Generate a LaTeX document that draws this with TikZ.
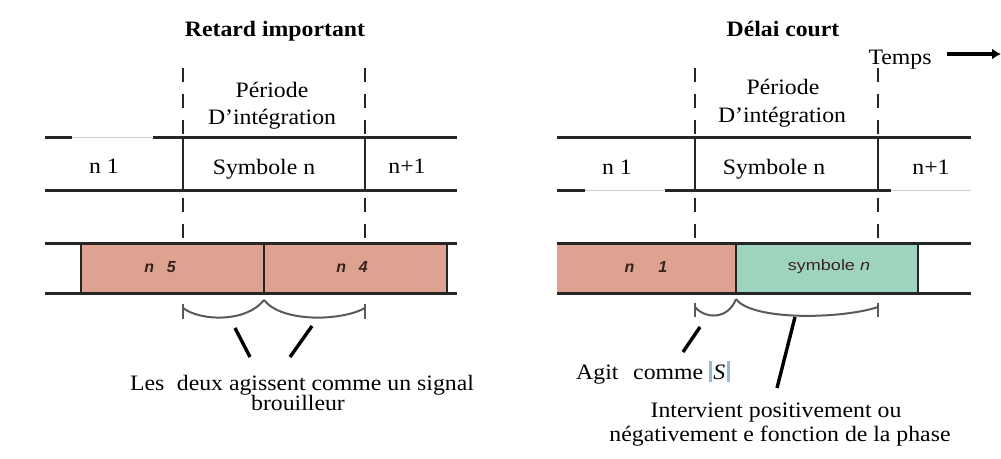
\documentclass[tikz,border=0pt]{standalone}
\usepackage{fontspec}
\usepackage{graphicx}
\setmainfont{Liberation Serif}[FakeStretch=1.08]
\newfontfamily\boxfont{Liberation Sans}
\usetikzlibrary{arrows.meta}

\definecolor{salmon}{RGB}{222,163,144}
\definecolor{mint}{RGB}{158,211,189}
\definecolor{bracegray}{RGB}{90,90,90}
\definecolor{sblue}{RGB}{140,190,220}
\definecolor{boxtext}{RGB}{55,35,30}

% |S| with light blue bars
\newcommand{\absS}{\textcolor{sblue}{\rule[-0.12em]{0.14em}{0.95em}}\hspace{0.06em}\textit{S}\hspace{0.06em}\textcolor{sblue}{\rule[-0.12em]{0.14em}{0.95em}}}

\tikzset{
  bandline/.style={line width=3pt, draw=black!85},
  sepline/.style={line width=2.8pt, draw=black!85},
  faintline/.style={line width=1pt, draw=black!18},
  dashline/.style={line width=2.8pt, draw=black!85, dash pattern=on 14pt off 12pt},
  bracearc/.style={line width=2pt, draw=bracegray},
  pointer/.style={line width=3.4pt, draw=black},
  lbl/.style={font=\fontsize{22}{24}\selectfont, inner sep=0pt, anchor=base},
  titlelbl/.style={font=\fontsize{22}{24}\selectfont\bfseries, inner sep=0pt, anchor=base},
  boxlbl/.style={font=\boxfont\fontsize{15}{17}\selectfont, text=boxtext, inner sep=0pt},
  boxnum/.style={boxlbl, font=\boxfont\itshape\bfseries\fontsize{16}{18}\selectfont},
}

\begin{document}
\begin{tikzpicture}[x=1pt,y=-1pt]
\useasboundingbox (0,0) rectangle (1001,458);
\fill[white] (0,0) rectangle (1001,458);

%% ---------------- left panel: long delay ----------------
\node[titlelbl] (titleL) at (275,36) {Retard important};

% symbol row
\draw[bandline] (45,137) -- (72,137);
\draw[faintline] (72,137) -- (153,137);
\draw[bandline] (153,137) -- (457,137);
\draw[bandline] (45,190) -- (457,190);
\draw[dashline] (183,68) -- (183,243);
\draw[dashline] (365,68) -- (365,243);
\draw[sepline] (183,137) -- (183,190);
\draw[sepline] (365,137) -- (365,190);

\node[lbl] (perL) at (272,97) {Période};
\node[lbl] (intL) at (272,124) {D'intégration};
\node[lbl] (n1L) at (104,173) {n 1};
\node[lbl] (symL) at (264,174) {Symbole n};
\node[lbl] (np1L) at (407,173) {n+1};

% delayed copy row
\fill[salmon] (81,243) rectangle (264,293);
\fill[salmon] (264,243) rectangle (447,293);
\draw[sepline] (81,243) -- (81,293);
\draw[sepline] (264,243) -- (264,293);
\draw[sepline] (447,243) -- (447,293);
\draw[bandline] (45,243) -- (457,243);
\draw[bandline] (45,293) -- (457,293);
\node[boxnum] (n5) at (160,267) {n\hspace{0.8em}5};
\node[boxnum] (n4) at (352,267) {n\hspace{0.8em}4};

% integration window brace
\draw[bracearc] (183,304) -- (183,319);
\draw[bracearc] (365,304) -- (365,319);
\draw[bracearc] (183,308) .. controls (200,321) and (246,323) .. (264,300);
\draw[bracearc] (264,300) .. controls (282,323) and (342,321) .. (365,308);

\node[lbl] (jamL1) at (302,390) {Les\hspace{0.3em} deux agissent comme un signal};
\node[lbl] (jamL2) at (298,410) {brouilleur};

\coordinate (pa1) at (235,328);
\coordinate (pa2) at (250,357);
\coordinate (pb1) at (312,326);
\coordinate (pb2) at (290,357);
\draw[pointer] (pa1) -- (pa2);
\draw[pointer] (pb1) -- (pb2);

%% ---------------- right panel: short delay ----------------
\node[titlelbl] (titleR) at (783,36) {Délai court};
\node[lbl] (temps) at (900,64) {Temps};
\coordinate (tA) at (947,54);
\coordinate (tB) at (1001,54);
\draw[line width=3.6pt, -{Latex[length=9pt,width=11pt]}] (tA) -- (tB);

\draw[bandline] (557,137) -- (971,137);
\draw[bandline] (557,190) -- (585,190);
\draw[faintline] (585,190) -- (665,190);
\draw[bandline] (665,190) -- (891,190);
\draw[faintline] (891,190) -- (971,190);
\draw[dashline] (695,68) -- (695,243);
\draw[dashline] (878,68) -- (878,243);
\draw[sepline] (695,137) -- (695,190);
\draw[sepline] (878,137) -- (878,190);

\node[lbl] (perR) at (783,94) {Période};
\node[lbl] (intR) at (782,122) {D'intégration};
\node[lbl] (n1R) at (617,174) {n 1};
\node[lbl] (symR) at (774,174) {Symbole n};
\node[lbl] (np1R) at (931,174) {n+1};

\fill[salmon] (557,243) rectangle (736,293);
\fill[mint] (736,243) rectangle (918,293);
\draw[sepline] (736,243) -- (736,293);
\draw[sepline] (918,243) -- (918,293);
\draw[bandline] (557,243) -- (971,243);
\draw[bandline] (557,293) -- (971,293);
\node[boxnum] (n1box) at (646,267) {n\hspace{1.5em}1};
\node[boxlbl] (symbox) at (829,267) {\scalebox{1.2}[1]{symbole \textit{n}}};

\draw[bracearc] (695,303) -- (695,317);
\draw[bracearc] (878,303) -- (878,317);
\draw[bracearc] (695,307) .. controls (705,319) and (728,320) .. (736,299);
\draw[bracearc] (736,299) .. controls (752,321) and (842,319) .. (878,307);

\node[lbl] (agit) at (653,379) {Agit\hspace{0.4em} comme \absS};
\node[lbl] (intv1) at (776,417) {Intervient positivement ou};
\node[lbl] (intv2) at (780,441) {négativement e fonction de la phase};

\coordinate (pc1) at (700,327);
\coordinate (pc2) at (683,352);
\coordinate (pd1) at (795,317);
\coordinate (pd2) at (777,388);
\draw[pointer] (pc1) -- (pc2);
\draw[pointer] (pd1) -- (pd2);
\end{tikzpicture}
\end{document}
